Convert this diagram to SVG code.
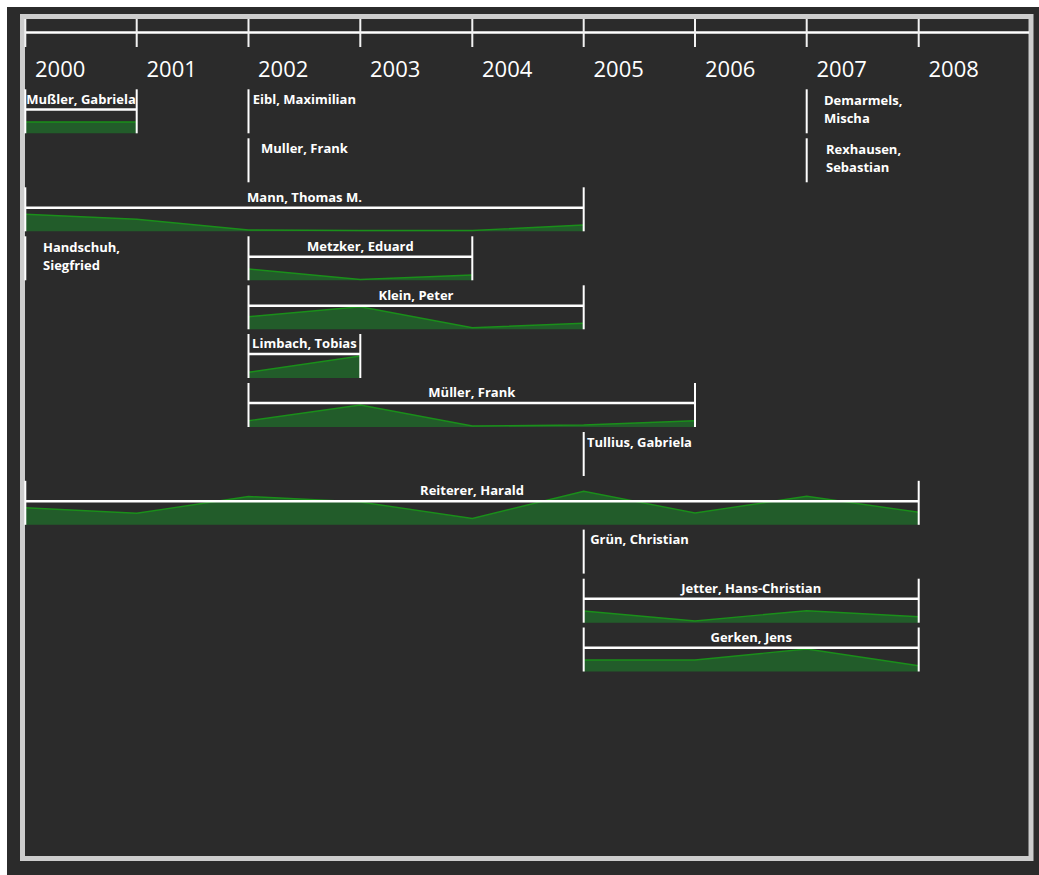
<svg xmlns="http://www.w3.org/2000/svg" width="1039" height="875" viewBox="0 0 1039 875">
<style>
.yr{font-family:"Open Sans","Noto Sans",sans-serif;font-size:22px;fill:#ffffff}
.lb{font-family:"Open Sans","Noto Sans",sans-serif;font-size:13px;font-weight:700;fill:#ffffff}
.mid{text-anchor:middle}
.v{stroke:#ffffff;stroke-width:2;fill:none}
.h{stroke:#ffffff;stroke-width:2.6;fill:none}
.tick{stroke:#f2f2f2;stroke-width:2;fill:none}
.area{fill:#22612a;fill-opacity:0.92;stroke:none}
.edge{fill:none;stroke:#1a8f1a;stroke-width:1.4}
</style>
<rect x="0" y="0" width="1039" height="875" fill="#ffffff"/>
<rect x="7" y="7" width="1032" height="868" fill="#2b2b2b"/>
<rect x="22.5" y="16.5" width="1008.5" height="842" fill="none" stroke="#cdcdcd" stroke-width="5"/>
<g id="axis">
<line class="h" x1="25" y1="32.5" x2="1029" y2="32.5"/>
<line class="tick" x1="25.3" y1="19" x2="25.3" y2="47"/>
<line class="tick" x1="136.7" y1="19" x2="136.7" y2="47"/>
<line class="tick" x1="248.5" y1="19" x2="248.5" y2="47"/>
<line class="tick" x1="360.3" y1="19" x2="360.3" y2="47"/>
<line class="tick" x1="472.3" y1="19" x2="472.3" y2="47"/>
<line class="tick" x1="583.7" y1="19" x2="583.7" y2="47"/>
<line class="tick" x1="695" y1="19" x2="695" y2="47"/>
<line class="tick" x1="806.7" y1="19" x2="806.7" y2="47"/>
<line class="tick" x1="918.7" y1="19" x2="918.7" y2="47"/>
<text class="yr" x="35" y="77">2000</text>
<text class="yr" x="146.5" y="77">2001</text>
<text class="yr" x="258" y="77">2002</text>
<text class="yr" x="370" y="77">2003</text>
<text class="yr" x="482" y="77">2004</text>
<text class="yr" x="593.5" y="77">2005</text>
<text class="yr" x="705" y="77">2006</text>
<text class="yr" x="816.5" y="77">2007</text>
<text class="yr" x="928.5" y="77">2008</text>
</g>
<g id="connectors"></g>
<g id="node-mussler">
<polygon class="area" points="25.3,122 136.7,122 136.7,133.3 25.3,133.3"/>
<polyline class="edge" points="25.3,122 136.7,122"/>
<line class="v" x1="25.3" y1="89.3" x2="25.3" y2="133.3"/>
<line class="v" x1="136.7" y1="89.3" x2="136.7" y2="133.3"/>
<line class="h" x1="25.3" y1="109.5" x2="136.7" y2="109.5"/>
<text class="lb mid" x="81" y="104">Mußler, Gabriela</text>
</g>
<g id="node-eibl">
<line class="v" x1="248.5" y1="89.3" x2="248.5" y2="133.3"/>
<text class="lb mid" x="304.4" y="104">Eibl, Maximilian</text>
</g>
<g id="node-demarmels">
<line class="v" x1="806.7" y1="89.3" x2="806.7" y2="133.3"/>
<text class="lb" x="824" y="104.5">Demarmels,</text>
<text class="lb" x="824" y="122.5">Mischa</text>
</g>
<g id="node-muller-frank">
<line class="v" x1="248.5" y1="138.3" x2="248.5" y2="182.3"/>
<text class="lb mid" x="304.4" y="153">Muller, Frank</text>
</g>
<g id="node-rexhausen">
<line class="v" x1="806.7" y1="138.3" x2="806.7" y2="182.3"/>
<text class="lb" x="826" y="153.5">Rexhausen,</text>
<text class="lb" x="826" y="171.5">Sebastian</text>
</g>
<g id="node-mann">
<polygon class="area" points="25.3,214.3 136.7,219.3 248.5,230 360.3,230.5 472.3,230.5 583.7,225 583.7,231.3 25.3,231.3"/>
<polyline class="edge" points="25.3,214.3 136.7,219.3 248.5,230 360.3,230.5 472.3,230.5 583.7,225"/>
<line class="v" x1="25.3" y1="187.3" x2="25.3" y2="231.3"/>
<line class="v" x1="583.7" y1="187.3" x2="583.7" y2="231.3"/>
<line class="h" x1="25.3" y1="207.8" x2="583.7" y2="207.8"/>
<text class="lb mid" x="304.5" y="201.5">Mann, Thomas M.</text>
</g>
<g id="node-handschuh">
<line class="v" x1="25.3" y1="236.3" x2="25.3" y2="280.3"/>
<text class="lb" x="43" y="251.7">Handschuh,</text>
<text class="lb" x="43" y="269.5">Siegfried</text>
</g>
<g id="node-metzker">
<polygon class="area" points="248.5,269 360.3,279.5 472.3,275 472.3,280.3 248.5,280.3"/>
<polyline class="edge" points="248.5,269 360.3,279.5 472.3,275"/>
<line class="v" x1="248.5" y1="236.3" x2="248.5" y2="280.3"/>
<line class="v" x1="472.3" y1="236.3" x2="472.3" y2="280.3"/>
<line class="h" x1="248.5" y1="256.7" x2="472.3" y2="256.7"/>
<text class="lb mid" x="360.4" y="250.5">Metzker, Eduard</text>
</g>
<g id="node-klein">
<polygon class="area" points="248.5,316.7 360.3,306.7 472.3,327.7 583.7,323.3 583.7,329.3 248.5,329.3"/>
<polyline class="edge" points="248.5,316.7 360.3,306.7 472.3,327.7 583.7,323.3"/>
<line class="v" x1="248.5" y1="285.3" x2="248.5" y2="329.3"/>
<line class="v" x1="583.7" y1="285.3" x2="583.7" y2="329.3"/>
<line class="h" x1="248.5" y1="305.7" x2="583.7" y2="305.7"/>
<text class="lb mid" x="416" y="299.5">Klein, Peter</text>
</g>
<g id="node-limbach">
<polygon class="area" points="248.5,372.3 360.3,356 360.3,378 248.5,378"/>
<polyline class="edge" points="248.5,372.3 360.3,356"/>
<line class="v" x1="248.5" y1="334" x2="248.5" y2="378"/>
<line class="v" x1="360.3" y1="334" x2="360.3" y2="378"/>
<line class="h" x1="248.5" y1="354" x2="360.3" y2="354"/>
<text class="lb mid" x="304.4" y="348.3">Limbach, Tobias</text>
</g>
<g id="node-mueller-frank">
<polygon class="area" points="248.5,420.7 360.3,405 472.3,426 583.7,425 695,420.7 695,427 248.5,427"/>
<polyline class="edge" points="248.5,420.7 360.3,405 472.3,426 583.7,425 695,420.7"/>
<line class="v" x1="248.5" y1="383" x2="248.5" y2="427"/>
<line class="v" x1="695" y1="383" x2="695" y2="427"/>
<line class="h" x1="248.5" y1="403" x2="695" y2="403"/>
<text class="lb mid" x="471.8" y="397.3">Müller, Frank</text>
</g>
<g id="node-tullius">
<line class="v" x1="583.7" y1="432" x2="583.7" y2="476"/>
<text class="lb mid" x="639.5" y="446.5">Tullius, Gabriela</text>
</g>
<g id="node-reiterer">
<polygon class="area" points="25.3,507.7 136.7,513.3 248.5,496.5 360.3,502 472.3,518.5 583.7,491.3 695,513 806.7,496.3 918.7,512.3 918.7,524.8 25.3,524.8"/>
<polyline class="edge" points="25.3,507.7 136.7,513.3 248.5,496.5 360.3,502 472.3,518.5 583.7,491.3 695,513 806.7,496.3 918.7,512.3"/>
<line class="v" x1="25.3" y1="480.8" x2="25.3" y2="524.8"/>
<line class="v" x1="918.7" y1="480.8" x2="918.7" y2="524.8"/>
<line class="h" x1="25.3" y1="501.2" x2="918.7" y2="501.2"/>
<text class="lb mid" x="472" y="495.2">Reiterer, Harald</text>
</g>
<g id="node-gruen">
<line class="v" x1="583.7" y1="529.6" x2="583.7" y2="573.6"/>
<text class="lb mid" x="639.5" y="544.3">Grün, Christian</text>
</g>
<g id="node-jetter">
<polygon class="area" points="583.7,611 695,621 806.7,610.7 918.7,616.7 918.7,622.7 583.7,622.7"/>
<polyline class="edge" points="583.7,611 695,621 806.7,610.7 918.7,616.7"/>
<line class="v" x1="583.7" y1="578.7" x2="583.7" y2="622.7"/>
<line class="v" x1="918.7" y1="578.7" x2="918.7" y2="622.7"/>
<line class="h" x1="583.7" y1="598.8" x2="918.7" y2="598.8"/>
<text class="lb mid" x="751.2" y="593">Jetter, Hans-Christian</text>
</g>
<g id="node-gerken">
<polygon class="area" points="583.7,660 695,660 806.7,649 918.7,665.7 918.7,671.5 583.7,671.5"/>
<polyline class="edge" points="583.7,660 695,660 806.7,649 918.7,665.7"/>
<line class="v" x1="583.7" y1="627.5" x2="583.7" y2="671.5"/>
<line class="v" x1="918.7" y1="627.5" x2="918.7" y2="671.5"/>
<line class="h" x1="583.7" y1="647.8" x2="918.7" y2="647.8"/>
<text class="lb mid" x="751.2" y="642">Gerken, Jens</text>
</g>
</svg>
